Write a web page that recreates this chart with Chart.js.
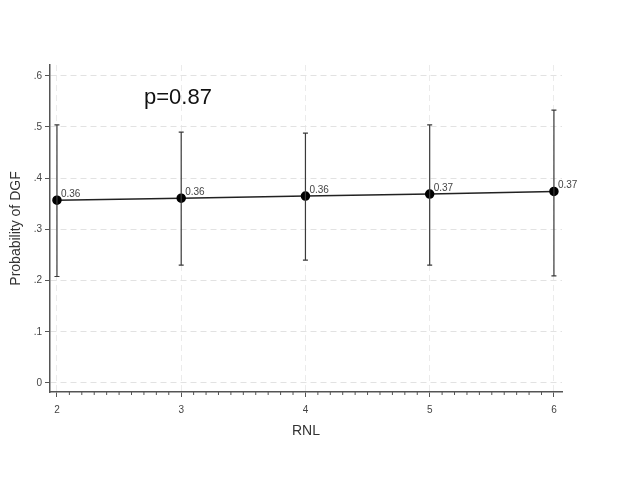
<!DOCTYPE html>
<html lang="en">
<head>
    <meta charset="UTF-8">
    <title>Probability of DGF by RNL</title>
    <script src="https://cdn.jsdelivr.net/npm/chart.js@4.4.1/dist/chart.umd.min.js"></script>
    <style>
        html, body { margin: 0; padding: 0; background: #fff; overflow: hidden; }
    </style>
</head>
<body>
    <canvas id="dgfChart" width="640" height="480"></canvas>

    <script>
        // values
        const rnl = [2, 3, 4, 5, 6];
        const prob = [0.357, 0.361, 0.365, 0.369, 0.374];
        const ciLow = [0.208, 0.230, 0.240, 0.230, 0.209];
        const ciHigh = [0.504, 0.490, 0.488, 0.504, 0.533];
        const pointLabels = ['0.36', '0.36', '0.36', '0.37', '0.37'];
        const xTicks = [2, 3, 4, 5, 6];
        const yTicks = [0, 0.1, 0.2, 0.3, 0.4, 0.5, 0.6];
        const yTickLabels = ['0', '.1', '.2', '.3', '.4', '.5', '.6'];
        const pText = 'p=0.87';

        const font = "'Liberation Sans', Arial, sans-serif";

        // error bars with small caps
        const errorBars = {
            id: 'errorBars',
            afterDatasetsDraw(chart) {
                const ctx = chart.ctx, x = chart.scales.x, y = chart.scales.y;
                ctx.save();
                ctx.strokeStyle = '#3a3a3a';
                ctx.lineWidth = 1.2;
                rnl.forEach((v, i) => {
                    const px = x.getPixelForValue(v);
                    const top = y.getPixelForValue(ciHigh[i]);
                    const bot = y.getPixelForValue(ciLow[i]);
                    ctx.beginPath();
                    ctx.moveTo(px, top); ctx.lineTo(px, bot);
                    ctx.moveTo(px - 2.5, top); ctx.lineTo(px + 2.5, top);
                    ctx.moveTo(px - 2.5, bot); ctx.lineTo(px + 2.5, bot);
                    ctx.stroke();
                });
                ctx.restore();
            }
        };

        // value labels, minor x ticks and the p-value note
        const extras = {
            id: 'extras',
            afterDraw(chart) {
                const ctx = chart.ctx, x = chart.scales.x, y = chart.scales.y;
                ctx.save();
                ctx.fillStyle = '#444';
                ctx.font = '10px ' + font;
                ctx.textBaseline = 'bottom';
                rnl.forEach((v, i) => {
                    ctx.fillText(pointLabels[i], x.getPixelForValue(v) + 4, y.getPixelForValue(prob[i]) - 1);
                });

                // minor ticks every 0.1 on the x axis
                ctx.strokeStyle = '#555';
                ctx.lineWidth = 1;
                const base = chart.chartArea.bottom;
                for (let k = 20; k <= 60; k++) {
                    if (k % 10 === 0) continue;
                    const px = x.getPixelForValue(k / 10);
                    ctx.beginPath();
                    ctx.moveTo(px, base); ctx.lineTo(px, base + 3);
                    ctx.stroke();
                }

                ctx.fillStyle = '#111';
                ctx.font = '22px ' + font;
                ctx.textBaseline = 'alphabetic';
                ctx.fillText(pText, 144, 104);
                ctx.restore();
            }
        };

        new Chart(document.getElementById('dgfChart'), {
            type: 'line',
            data: {
                datasets: [{
                    data: rnl.map((v, i) => ({ x: v, y: prob[i] })),
                    borderColor: '#222',
                    borderWidth: 1.5,
                    pointBackgroundColor: '#000',
                    pointBorderColor: '#000',
                    pointRadius: 4,
                    tension: 0,
                    fill: false
                }]
            },
            options: {
                responsive: false,
                animation: false,
                layout: { padding: { top: 65, right: 78, left: 0, bottom: 38 } },
                plugins: {
                    legend: { display: false },
                    tooltip: { enabled: false }
                },
                scales: {
                    x: {
                        type: 'linear',
                        min: 1.944,
                        max: 6.065,
                        afterBuildTicks: axis => { axis.ticks = xTicks.map(v => ({ value: v })); },
                        afterFit: axis => { axis.height = 50; },
                        border: { color: '#555', width: 1.5, dash: [6, 4] },
                        grid: {
                            color: '#ebebeb',
                            tickColor: '#555',
                            tickLength: 5,
                            tickBorderDash: []
                        },
                        ticks: {
                            color: '#444',
                            font: { family: font, size: 10 },
                            padding: 7,
                            maxRotation: 0,
                            callback: v => String(v)
                        },
                        title: {
                            display: true,
                            text: 'RNL',
                            color: '#333',
                            font: { family: font, size: 14 },
                            padding: { top: 4, bottom: 2 }
                        }
                    },
                    y: {
                        min: -0.0176,
                        max: 0.621,
                        afterBuildTicks: axis => { axis.ticks = yTicks.map(v => ({ value: v })); },
                        afterFit: axis => { axis.width = 50; },
                        border: { color: '#555', width: 1.5, dash: [6, 4] },
                        grid: {
                            color: '#e2e2e2',
                            tickColor: '#555',
                            tickLength: 5,
                            tickBorderDash: []
                        },
                        ticks: {
                            color: '#444',
                            font: { family: font, size: 10 },
                            padding: 3,
                            callback: v => yTickLabels[yTicks.indexOf(v)] ?? ''
                        },
                        title: {
                            display: true,
                            text: 'Probability of DGF',
                            color: '#333',
                            font: { family: font, size: 14 },
                            padding: { top: 8, bottom: 2 }
                        }
                    }
                }
            },
            plugins: [errorBars, extras]
        });
    </script>
</body>
</html>
